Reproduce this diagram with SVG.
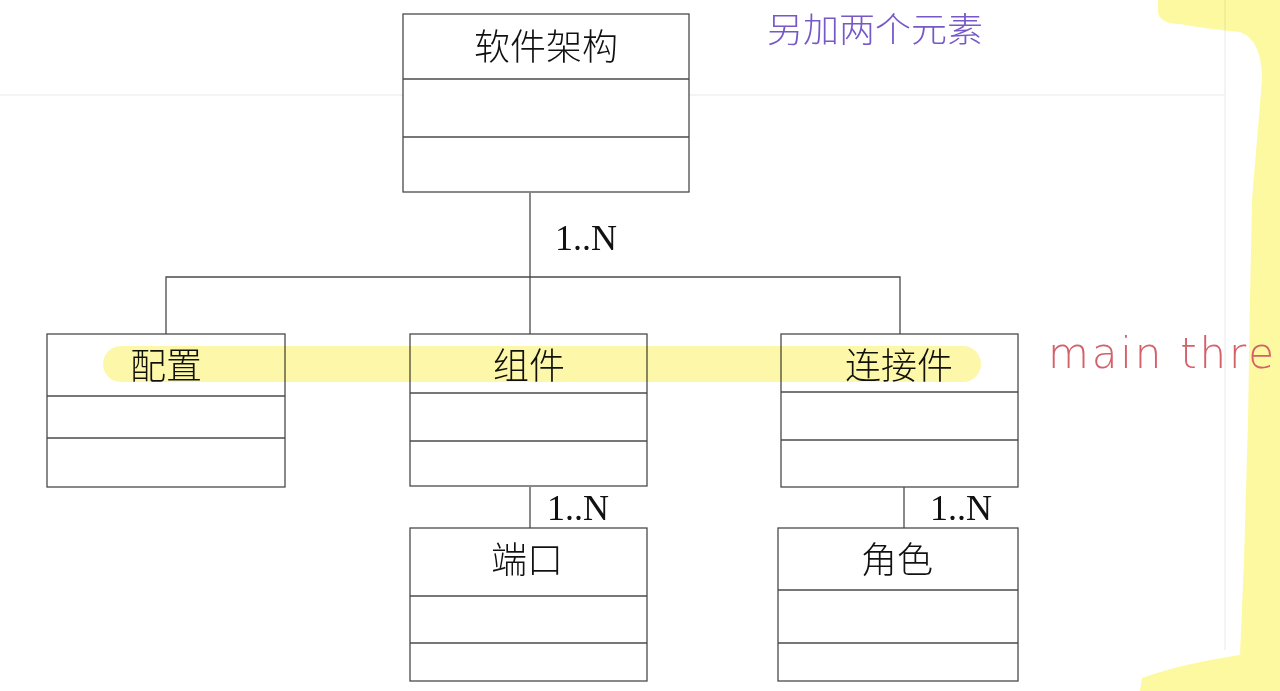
<svg xmlns="http://www.w3.org/2000/svg" width="1280" height="691" viewBox="0 0 1280 691">
<style>
.box{fill:#fff;stroke:#4a4a4a;stroke-width:1.3}
.div{stroke:#4a4a4a;stroke-width:1.3}
.conn{stroke:#4a4a4a;stroke-width:1.3;fill:none}
.cn{font-family:"Noto Sans CJK SC","Noto Sans CJK JP",sans-serif;font-size:36px;fill:#111;text-anchor:middle;font-weight:300}
.mul{font-family:"Liberation Serif","Times New Roman",serif;font-size:36px;fill:#111}
.faint{stroke:#f1f1f1;stroke-width:1.5}
</style>
<rect width="1280" height="691" fill="#fff"/>
<line class="faint" x1="0" y1="95" x2="1225" y2="95"/>
<line class="faint" x1="1225" y1="0" x2="1225" y2="650"/>

<g id="connectors">
<line class="conn" x1="530" y1="193" x2="530" y2="334"/>
<polyline class="conn" points="166,334 166,277 900,277 900,334"/>
<line class="conn" x1="530" y1="487" x2="530" y2="528"/>
<line class="conn" x1="904" y1="487" x2="904" y2="528"/>
<text class="mul" x="555" y="250">1..N</text>
<text class="mul" x="547" y="520">1..N</text>
<text class="mul" x="930" y="520">1..N</text>
</g>

<g id="node-arch">
<rect class="box" x="403" y="14" width="286" height="178"/>
<line class="div" x1="403" y1="79" x2="689" y2="79"/>
<line class="div" x1="403" y1="137" x2="689" y2="137"/>
<text class="cn" x="546" y="60">软件架构</text>
</g>

<g id="node-config">
<rect class="box" x="47" y="334" width="238" height="153"/>
<line class="div" x1="47" y1="396" x2="285" y2="396"/>
<line class="div" x1="47" y1="438" x2="285" y2="438"/>
<text class="cn" x="166" y="379">配置</text>
</g>

<g id="node-component">
<rect class="box" x="410" y="334" width="237" height="152"/>
<line class="div" x1="410" y1="393" x2="647" y2="393"/>
<line class="div" x1="410" y1="441" x2="647" y2="441"/>
<text class="cn" x="529" y="379">组件</text>
</g>

<g id="node-connector">
<rect class="box" x="781" y="334" width="237" height="153"/>
<line class="div" x1="781" y1="392" x2="1018" y2="392"/>
<line class="div" x1="781" y1="440" x2="1018" y2="440"/>
<text class="cn" x="899" y="379">连接件</text>
</g>

<g id="node-port">
<rect class="box" x="410" y="528" width="237" height="153"/>
<line class="div" x1="410" y1="596" x2="647" y2="596"/>
<line class="div" x1="410" y1="643" x2="647" y2="643"/>
<text class="cn" x="527" y="573">端口</text>
</g>

<g id="node-role">
<rect class="box" x="778" y="528" width="240" height="153"/>
<line class="div" x1="778" y1="590" x2="1018" y2="590"/>
<line class="div" x1="778" y1="643" x2="1018" y2="643"/>
<text class="cn" x="897" y="573">角色</text>
</g>

<g id="annotations">
<rect x="103" y="346" width="878" height="36" rx="18" fill="#fcf584" opacity="0.7" style="mix-blend-mode:multiply"/>
<path d="M1158,0 L1280,0 L1280,691 L1140,691 L1142,678 Q1180,664 1240,655 L1244,560 L1248,420 L1250,300 L1252,200 L1262,80 Q1262,40 1240,32 Q1200,28 1180,24 Q1160,24 1158,12 Z" fill="#fdf88f" opacity="0.85" style="mix-blend-mode:multiply"/>
<text x="767" y="42" font-family="Noto Sans CJK SC, sans-serif" font-size="34" font-weight="300" fill="#7658c8" textLength="216" lengthAdjust="spacingAndGlyphs">另加两个元素</text>
<text x="1048" y="368" font-family="DejaVu Sans, sans-serif" font-size="42" font-weight="300" fill="#d4606a" textLength="226" lengthAdjust="spacing">main thre</text>
</g>
</svg>
